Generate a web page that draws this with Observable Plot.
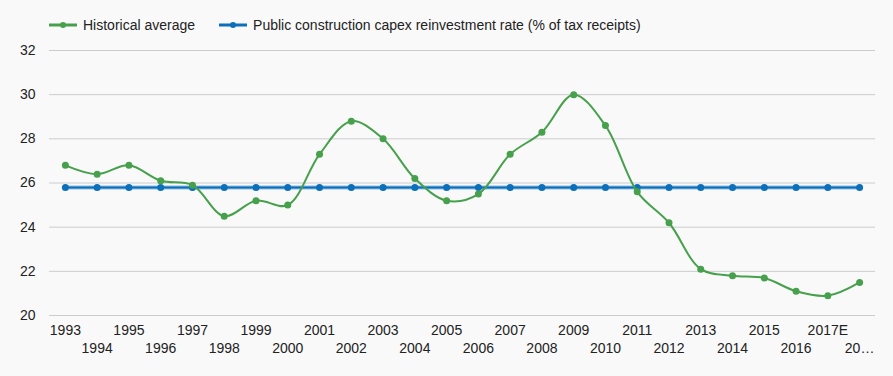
<!DOCTYPE html>
<html><head><meta charset="utf-8">
<script src="https://cdn.jsdelivr.net/npm/d3@7"></script>
<script src="https://cdn.jsdelivr.net/npm/@observablehq/plot@0.6"></script>
<style>
body{margin:0;background:#f9f9f9;font-family:"Liberation Sans",Arial,sans-serif;}
#legend{height:40px;position:relative;font-size:14px;color:#222;}
#legend .row{position:absolute;left:49px;top:17px;display:flex;align-items:center;line-height:16px;white-space:nowrap;}
#legend .item{display:flex;align-items:center;margin-right:24px;}
#legend svg{margin-right:6px;}
</style>
</head><body>
<div id="legend"></div>
<div id="chart"></div>
<script>
const years = ["1993","1994","1995","1996","1997","1998","1999","2000","2001","2002","2003","2004","2005","2006","2007","2008","2009","2010","2011","2012","2013","2014","2015","2016","2017E","2018E"];
const historical = [26.8,26.4,26.8,26.1,25.9,24.5,25.2,25.0,27.3,28.8,28.0,26.2,25.2,25.5,27.3,28.3,30.0,28.6,25.6,24.2,22.1,21.8,21.7,21.1,20.9,21.5];
const reinvestment = [25.8,25.8,25.8,25.8,25.8,25.8,25.8,25.8,25.8,25.8,25.8,25.8,25.8,25.8,25.8,25.8,25.8,25.8,25.8,25.8,25.8,25.8,25.8,25.8,25.8,25.8];
const yTicks = [20,22,24,26,28,30,32];
const seriesNames = ["Historical average","Public construction capex reinvestment rate (% of tax receipts)"];
const colors = ["#46a04c","#0b6fbb"];

const greenData = years.map((y,i)=>({year:y, value:historical[i]}));
const blueData = years.map((y,i)=>({year:y, value:reinvestment[i]}));

// legend
const row = document.createElement("div"); row.className="row";
seriesNames.forEach((name,i)=>{
  const it = document.createElement("div"); it.className="item";
  it.innerHTML = `<svg width="28" height="10"><line x1="0" x2="28" y1="5" y2="5" stroke="${colors[i]}" stroke-width="3"/><circle cx="14" cy="5" r="3" fill="${colors[i]}"/></svg><span>${name}</span>`;
  row.appendChild(it);
});
document.getElementById("legend").appendChild(row);

const fmt = d => d === "2018E" ? "20…" : d;

const chart = Plot.plot({
  width: 893,
  height: 336,
  marginTop: 10,
  marginBottom: 61,
  marginLeft: 49,
  marginRight: 18,
  style: {fontSize: "14px", color: "#222", background: "transparent", fontFamily: "'Liberation Sans', Arial, sans-serif"},
  x: {type: "point", domain: years, padding: 0.5, round: false, label: null},
  y: {domain: [20, 32], label: null},
  marks: [
    Plot.gridY(yTicks, {stroke: "#cccccc", strokeOpacity: 1, strokeWidth: 1}),
    Plot.axisY(yTicks, {tickSize: 0, tickPadding: 14, fontSize: 14, label: null}),
    Plot.axisX(years.filter((d,i)=>i%2===0), {tickSize: 0, tickPadding: 10, tickFormat: fmt, fontSize: 14, label: null}),
    Plot.axisX(years.filter((d,i)=>i%2===1), {tickSize: 0, tickPadding: 28, tickFormat: fmt, fontSize: 14, label: null}),
    Plot.lineY(blueData, {x: "year", y: "value", stroke: "#8dbde2", strokeWidth: 4}),
    Plot.lineY(blueData, {x: "year", y: "value", stroke: colors[1], strokeWidth: 2}),
    Plot.dot(blueData, {x: "year", y: "value", r: 3.5, fill: colors[1]}),
    Plot.lineY(greenData, {x: "year", y: "value", stroke: colors[0], strokeWidth: 2, curve: "catmull-rom"}),
    Plot.dot(greenData, {x: "year", y: "value", r: 3.5, fill: colors[0]})
  ]
});
document.getElementById("chart").appendChild(chart);
</script>
</body></html>
